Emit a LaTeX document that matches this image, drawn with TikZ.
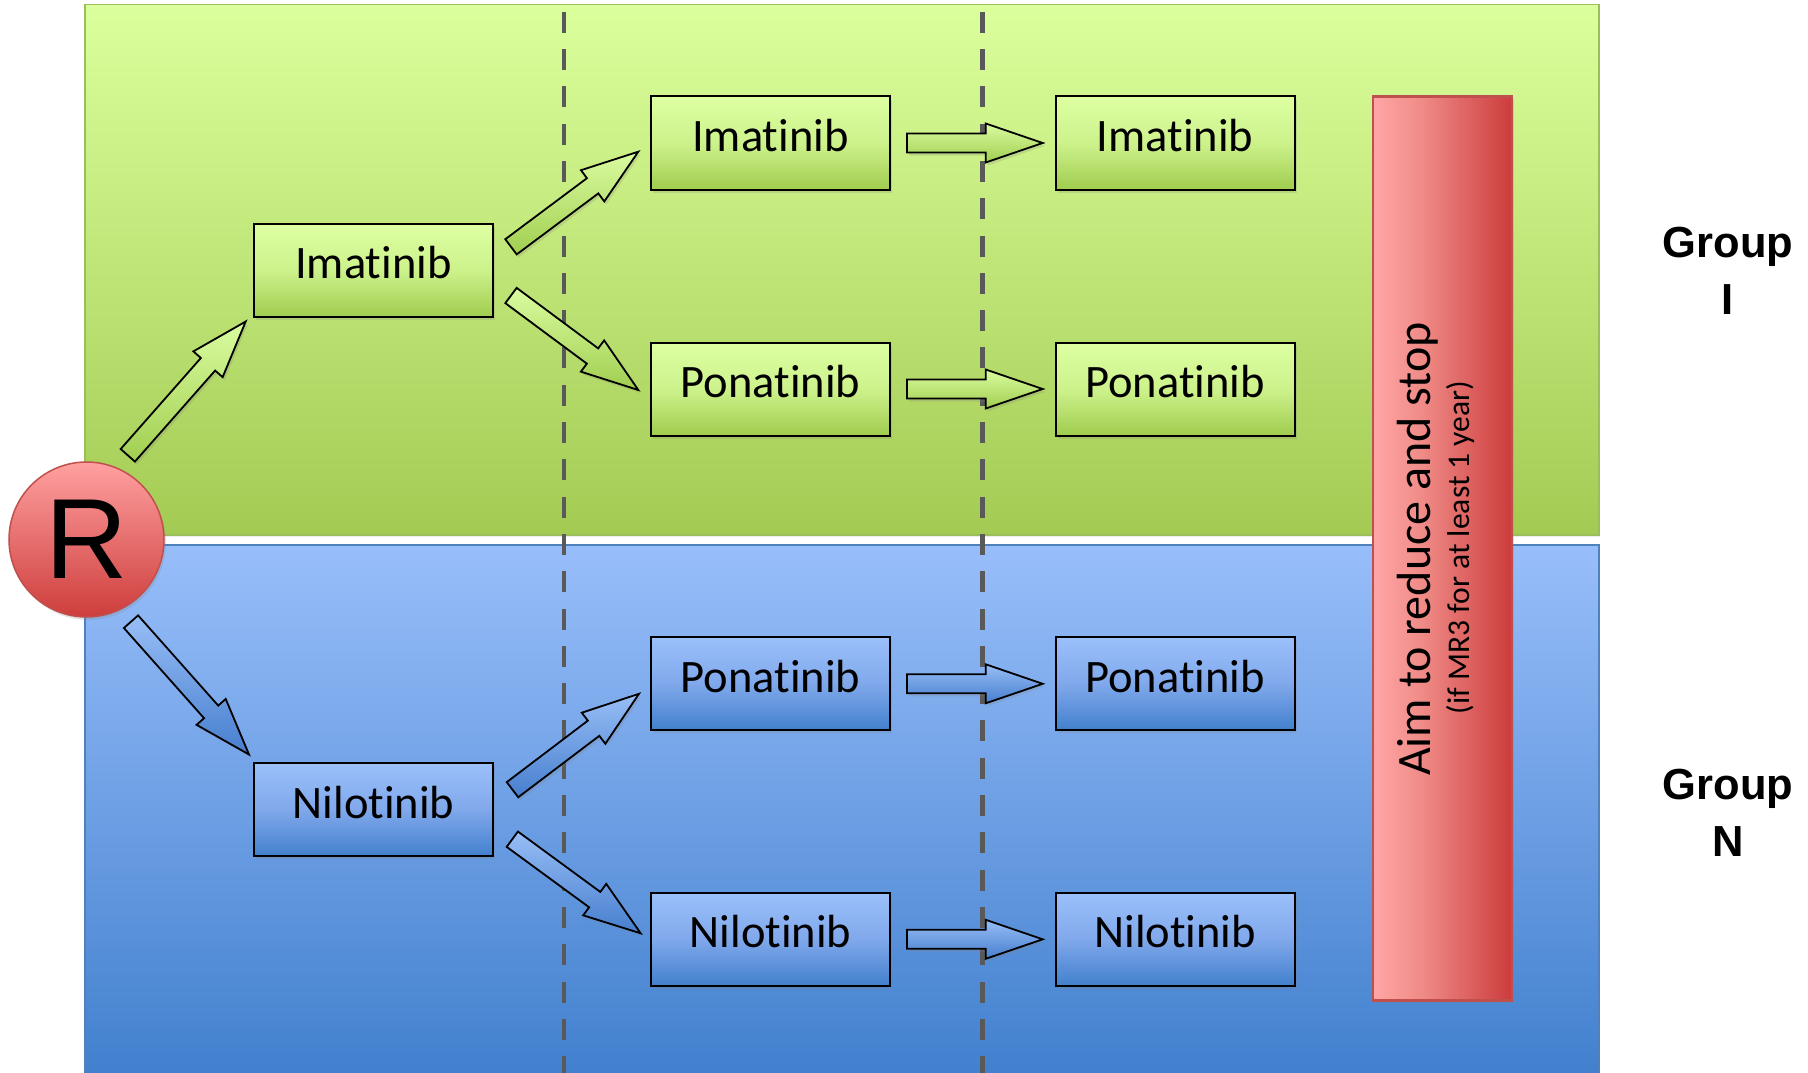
\documentclass[tikz,border=0pt]{standalone}
\usepackage{fontspec}
\setmainfont{Carlito}[Ligatures=NoCommon]
\newfontfamily\arialfont{Liberation Sans}
\usetikzlibrary{calc,shadows}

\definecolor{gTop}{RGB}{221,255,162}
\definecolor{gMid}{RGB}{205,242,140}
\definecolor{gBot}{RGB}{160,204,78}
\definecolor{bTop}{RGB}{155,192,250}
\definecolor{bMid}{RGB}{128,168,235}
\definecolor{bBot}{RGB}{66,128,205}
\definecolor{pgTop}{RGB}{219,255,156}
\definecolor{pgBot}{RGB}{163,203,83}
\definecolor{pgBorder}{RGB}{155,190,90}
\definecolor{pbTop}{RGB}{152,190,250}
\definecolor{pbBot}{RGB}{64,127,205}
\definecolor{pbBorder}{RGB}{79,129,189}
\definecolor{agTop}{RGB}{218,252,160}
\definecolor{agBot}{RGB}{160,206,80}
\definecolor{abTop}{RGB}{152,190,246}
\definecolor{abBot}{RGB}{70,126,206}
\definecolor{rTop}{RGB}{255,160,160}
\definecolor{rBot}{RGB}{205,62,60}
\definecolor{rBorder}{RGB}{192,80,77}
\definecolor{rL}{RGB}{255,166,166}
\definecolor{rM}{RGB}{240,140,136}
\definecolor{rR}{RGB}{204,60,60}
\definecolor{divgray}{RGB}{89,89,89}

\pgfdeclarehorizontalshading{redbarsh}{100bp}{color(0bp)=(rL); color(25bp)=(rL); color(42bp)=(rM); color(75bp)=(rR); color(100bp)=(rR)}

\newcommand\bxfont{\fontsize{46.5pt}{56pt}\selectfont}
\newcommand\blockarr[3]{%
  \path ($(#2)!57pt!(#1)$) coordinate (nk);
  \path[#3] ($(#1)!9.5pt!90:(#2)$) -- ($(nk)!9.5pt!90:(#2)$) -- ($(nk)!19.5pt!90:(#2)$) -- (#2)
     -- ($(nk)!19.5pt!-90:(#2)$) -- ($(nk)!9.5pt!-90:(#2)$) -- ($(#1)!9.5pt!-90:(#2)$) -- cycle;}

\tikzset{
  softshadow/.style={drop shadow={opacity=0.22, shadow xshift=2pt, shadow yshift=-3pt}},
  box/.style={draw=black, line width=2pt, minimum width=239pt, minimum height=93pt,
    inner sep=0pt, font=\bxfont, text height=32.6pt, text depth=16pt, softshadow},
  gbox/.style={box, top color=gTop, bottom color=gBot, middle color=gMid},
  bbox/.style={box, top color=bTop, bottom color=bBot, middle color=bMid},
  garr/.style={draw=black, line width=1.8pt, line join=miter, top color=agTop, bottom color=agBot, softshadow},
  barr/.style={draw=black, line width=1.8pt, line join=miter, top color=abTop, bottom color=abBot, softshadow},
  divider/.style={draw=divgray, line width=4.7pt, dash pattern=on 21pt off 16.3pt},
  grouplabel/.style={font=\arialfont\bfseries\fontsize{43.5pt}{57.5pt}\selectfont, align=center, inner sep=0pt}
}

\begin{document}
\begin{tikzpicture}[x=1pt,y=-1pt]
\clip (0,0) rectangle (1808,1073);
\fill[white] (0,0) rectangle (1808,1073);

% panels
\draw[draw=pgBorder, line width=1.5pt, top color=pgTop, bottom color=pgBot,
      drop shadow={opacity=0.15, shadow xshift=1pt, shadow yshift=-2pt}] (85,4.7) rectangle (1599,535);
\draw[draw=pbBorder, line width=1.5pt, top color=pbTop, bottom color=pbBot,
      drop shadow={opacity=0.15, shadow xshift=1pt, shadow yshift=-2pt}] (85,545) rectangle (1599,1085);

% dashed dividers
\draw[divider] (564,11.7) -- (564,1080);
\draw[divider] (982.7,11.7) -- (982.7,1080);

% red bar
\node[draw=rBorder, line width=2.5pt, shade, shading=redbarsh, minimum width=139pt, minimum height=904pt,
      inner sep=0pt, softshadow] (stop) at (1442.5,548.3) {};
\node[rotate=90, anchor=base, inner sep=0pt, font=\fontsize{48pt}{56pt}\selectfont] (stoptxt) at (1430.7,549) {Aim to reduce and stop};
\node[rotate=90, anchor=base, inner sep=0pt, font=\fontsize{31.6pt}{38pt}\selectfont] (stopsub) at (1469,547.5) {(if MR3 for at least 1 year)};

% boxes
\node[gbox] (i1) at (373.5,270) {Imatinib};
\node[bbox] (n1) at (373.5,809.7) {Nilotinib};
\node[gbox] (i2) at (770.5,143) {Imatinib};
\node[gbox] (p2) at (770.5,389) {Ponatinib};
\node[bbox] (pb2) at (770.5,683.8) {Ponatinib};
\node[bbox] (n2) at (770.5,939.3) {Nilotinib};
\node[gbox] (i3) at (1175.2,143) {Imatinib};
\node[gbox] (p3) at (1175.2,389) {Ponatinib};
\node[bbox] (pb3) at (1175.2,683.8) {Ponatinib};
\node[bbox] (n3) at (1175.2,939.3) {Nilotinib};

% R circle
\node[circle, draw=rBorder, line width=1.5pt, top color=rTop, bottom color=rBot, minimum size=155pt,
      inner sep=0pt, font=\arialfont\fontsize{114pt}{120pt}\selectfont, softshadow] (R) at (86.5,539.5) {R};

% group labels
\node[grouplabel] (gI) at (1728,270.8) {Group\\I};
\node[grouplabel] (gN) at (1728,813) {Group\\N};

% arrow end points
\coordinate (a1s) at ($(R)+(41.3,-84.2)$);
\coordinate (a1e) at ($(i1.south west)+(-7.3,4)$);
\coordinate (a2s) at ($(R)+(44.5,82.2)$);
\coordinate (a2e) at ($(n1.north west)+(-4,-7.7)$);
\coordinate (a3s) at ($(i1.east)+(17,-23.2)$);
\coordinate (a3e) at ($(i2.west)+(-11.7,8.7)$);
\coordinate (a4s) at ($(i1.east)+(17,25.5)$);
\coordinate (a4e) at ($(p2.west)+(-11.7,1)$);
\coordinate (a5s) at ($(n1.east)+(18.5,-20)$);
\coordinate (a5e) at ($(pb2.west)+(-11,10)$);
\coordinate (a6s) at ($(n1.east)+(18.3,29.5)$);
\coordinate (a6e) at ($(n2.west)+(-9.3,-6)$);
\coordinate (h1s) at ($(i2.east)+(16,0)$);
\coordinate (h1e) at ($(i3.west)+(-12,0)$);
\coordinate (h2s) at ($(p2.east)+(16,0)$);
\coordinate (h2e) at ($(p3.west)+(-12,0)$);
\coordinate (h3s) at ($(pb2.east)+(16,0)$);
\coordinate (h3e) at ($(pb3.west)+(-12,0)$);
\coordinate (h4s) at ($(n2.east)+(16,0)$);
\coordinate (h4e) at ($(n3.west)+(-12,0)$);

\blockarr{a1s}{a1e}{garr}
\blockarr{a2s}{a2e}{barr}
\blockarr{a3s}{a3e}{garr}
\blockarr{a4s}{a4e}{garr}
\blockarr{a5s}{a5e}{barr}
\blockarr{a6s}{a6e}{barr}
\blockarr{h1s}{h1e}{garr}
\blockarr{h2s}{h2e}{garr}
\blockarr{h3s}{h3e}{barr}
\blockarr{h4s}{h4e}{barr}
\end{tikzpicture}
\end{document}
